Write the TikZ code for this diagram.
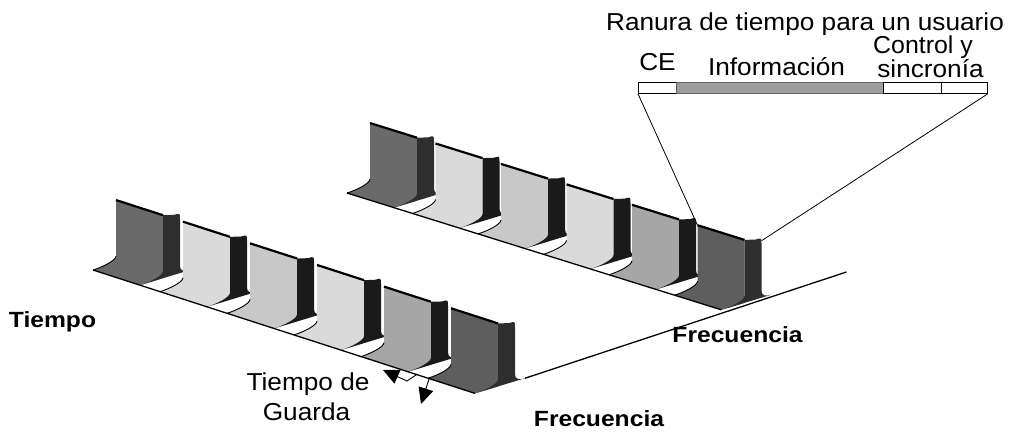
\documentclass[tikz,border=0pt]{standalone}
\usepackage{fontspec}
\setmainfont{Liberation Sans}
\usetikzlibrary{arrows.meta}
\definecolor{sdark}{HTML}{6A6A6A}
\definecolor{slight}{HTML}{DADADA}
\definecolor{slightb}{HTML}{C8C8C8}
\definecolor{smed}{HTML}{A6A6A6}
\definecolor{slast}{HTML}{5E5E5E}
\definecolor{edark}{HTML}{2E2E2E}
\definecolor{eblack}{HTML}{1A1A1A}
\definecolor{cellgray}{HTML}{9C9C9C}
\def\fa{23}\def\fH{63}\def\fr{7}\def\fw{47}
\newcommand{\drawslot}[3]{%
\begin{scope}[shift={(#1,0,0)}]
\fill[#2] (0,0,0) -- (\fw,0,0) -- (\fw,\fa,0) -- (\fw,\fa,\fH) -- (0,\fa,\fH) -- (0,\fa,\fr) .. controls (0,\fa,2.5) and (0,9,0) .. (0,0,0) -- cycle;
\draw[line width=0.9pt] (0,\fa,\fr) .. controls (0,\fa,2.5) and (0,9,0) .. (0,0,0);
\fill[#3] (\fw,0,0) .. controls (\fw,9,0) and (\fw,\fa,2.5) .. (\fw,\fa,\fr) -- (\fw,\fa,\fH) -- (\fw,34,60) .. controls (\fw,40,60) .. (\fw,40,54) -- (\fw,40,7) .. controls (\fw,40,2) and (\fw,44,0) .. (\fw,50,0) -- cycle;
\draw[line width=2.2pt] (0,\fa,\fH) -- (\fw,\fa,\fH);
\end{scope}}
\begin{document}
\begin{tikzpicture}[x=1pt,y=-1pt,
  txt/.style={font=\fontsize{24.5}{28}\selectfont, inner sep=0pt, anchor=base, xscale=1.07},
  btxt/.style={font=\fontsize{22}{26}\selectfont\bfseries, inner sep=0pt, anchor=base, xscale=1.12},
  cell/.style={draw, line width=0.8pt, inner sep=0pt, anchor=north west, minimum height=11pt},
  rail/.style={line width=1.3pt},
  thinline/.style={line width=0.8pt},
  guard/.style={line width=0.9pt, -{Triangle[length=16pt,width=15pt]}}]
\useasboundingbox (0,0) rectangle (1014,432);
% upper row
\begin{scope}[shift={(347,193)}, x={(1pt,-0.312pt)}, y={(1pt,0.303pt)}, z={(0pt,1pt)}]
\drawslot{0}{sdark}{edark}
\drawslot{65.5}{slight}{eblack}
\drawslot{131}{slightb}{eblack}
\drawslot{196.5}{slight}{eblack}
\drawslot{262}{smed}{eblack}
\drawslot{327.5}{slast}{edark}
\draw[rail] (0,0,0) -- (374.5,0,0);
\coordinate (ul) at (327.5,\fa,\fH);
\coordinate (ur) at (374.5,40,57);
\coordinate (fq2) at (374.5,125,0);
\end{scope}
% lower row
\begin{scope}[shift={(93,270)}, x={(1pt,-0.323pt)}, y={(1pt,0.303pt)}, z={(0pt,1pt)}]
\drawslot{0}{sdark}{edark}
\drawslot{67}{slight}{eblack}
\drawslot{134}{slightb}{eblack}
\drawslot{201}{slight}{eblack}
\drawslot{268}{smed}{eblack}
\drawslot{335}{slast}{edark}
\draw[rail] (0,0,0) -- (382,0,0);
\coordinate (fq1) at (382,50,0);
\end{scope}
\draw[rail] (fq1) -- (fq2);
% slot bar
\node[cell, minimum width=38pt] (c1) at (638,82) {};
\node[cell, minimum width=207pt, fill=cellgray, draw=black!60] (c2) at (676,82) {};
\node[cell, minimum width=58pt] (c3) at (883,82) {};
\node[cell, minimum width=46pt] (c4) at (941,82) {};
\draw[thinline] (c1.south west) -- (ul);
\draw[thinline] (c4.south east) -- (ur);
% guard time arrows
\coordinate (g1s) at (416,375);
\coordinate (g1m) at (407,381);
\coordinate (g1t) at (383,370);
\coordinate (g2s) at (429,379);
\coordinate (g2t) at (421,404);
\draw[guard] (g1s) -- (g1m) -- (g1t);
\draw[guard] (g2s) -- (g2t);
% labels
\node[txt] (title) at (805,30) {Ranura de tiempo para un usuario};
\node[txt] (ce) at (657.5,70) {CE};
\node[txt] (info) at (776.5,75) {Información};
\node[txt, xscale=0.95] (ctl) at (923,53) {Control y};
\node[txt] (sinc) at (930.5,77) {sincronía};
\node[txt] (tg1) at (308,390) {Tiempo de};
\node[txt] (tg2) at (306.5,420) {Guarda};
\node[btxt] (ti) at (52.5,327) {Tiempo};
\node[btxt] (fr1) at (599,426) {Frecuencia};
\node[btxt] (fr2) at (737.5,342.5) {Frecuencia};
\end{tikzpicture}
\end{document}
